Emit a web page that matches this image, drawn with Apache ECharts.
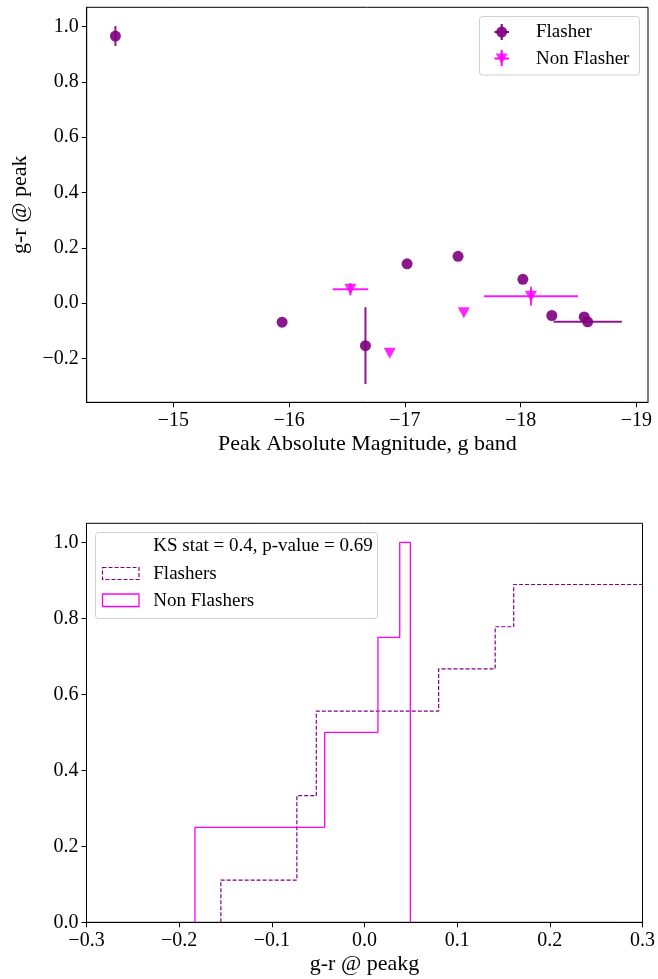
<!DOCTYPE html>
<html>
<head>
<meta charset="utf-8">
<script src="https://cdn.jsdelivr.net/npm/echarts@6/dist/echarts.min.js"></script>
<style>
  html, body { margin: 0; padding: 0; background: #fff; }
  #chart { width: 658px; height: 979px; }
</style>
</head>
<body>
<div id="chart"></div>
<script>
// ---- Colour at peak vs. peak absolute magnitude ----
const flasherMag      = [-14.50, -15.94, -16.66, -17.02, -17.46, -18.02, -18.27, -18.55, -18.58];
const flasherColor    = [0.966, -0.069, -0.154, 0.142, 0.169, 0.086, -0.045, -0.050, -0.068];
const flasherMagErr   = [0, 0, 0, 0, 0, 0, 0, 0, 0.295];
const flasherColorErr = [0.036, 0, 0.139, 0, 0, 0, 0, 0, 0];

const nonMag      = [-16.53, -16.87, -17.51, -18.09];
const nonColor    = [0.050, -0.182, -0.035, 0.025];
const nonMagErr   = [0.153, 0, 0, 0.406];
const nonColorErr = [0.022, 0, 0, 0.034];

const magTicks   = [-19, -18, -17, -16, -15];
const colorTicks = [-0.2, 0, 0.2, 0.4, 0.6, 0.8, 1.0];

// ---- Cumulative distributions of g-r at peak ----
const flasherStepX  = [-0.155, -0.073, -0.052, 0.080, 0.141, 0.161, 0.966];
const flasherLevels = [1/9, 3/9, 5/9, 6/9, 7/9, 8/9];
const nonStepX      = [-0.183, -0.043, 0.0145, 0.038, 0.0495];
const nonLevels     = [0.25, 0.50, 0.75, 1.00];

const grTicks  = [-0.3, -0.2, -0.1, 0, 0.1, 0.2, 0.3];
const cdfTicks = [0, 0.2, 0.4, 0.6, 0.8, 1.0];

const PURPLE = '#800080';
const MAGENTA = '#ff00ff';
const FONT = 'Liberation Serif';

function minusFmt(v, digits) {
  const s = Math.abs(v) < 1e-9 ? (0).toFixed(digits) : Math.abs(v).toFixed(digits);
  return (v < -1e-9 ? '\u2212' : '') + s;
}

// histogram-style outline: rises at each edge, drops to zero at the last edge
function stepOutline(edges, levels) {
  const pts = [[edges[0], 0]];
  for (let i = 0; i < levels.length; i++) {
    pts.push([edges[i], levels[i]]);
    pts.push([edges[i + 1], levels[i]]);
  }
  pts.push([edges[edges.length - 1], 0]);
  return pts;
}

function zip(a, b, c, d) {
  return a.map((v, i) => c ? [v, b[i], c[i], d[i]] : [v, b[i]]);
}

function errorBars(color) {
  return function (params, api) {
    const x = api.value(0), y = api.value(1), xe = api.value(2), ye = api.value(3);
    const children = [];
    const st = { stroke: color, lineWidth: 2, opacity: 0.9 };
    if (xe > 0) {
      const a = api.coord([x - xe, y]), b = api.coord([x + xe, y]);
      children.push({ type: 'line', shape: { x1: a[0], y1: a[1], x2: b[0], y2: b[1] }, style: st });
    }
    if (ye > 0) {
      const a = api.coord([x, y - ye]), b = api.coord([x, y + ye]);
      children.push({ type: 'line', shape: { x1: a[0], y1: a[1], x2: b[0], y2: b[1] }, style: st });
    }
    return { type: 'group', children: children };
  };
}

const axisCommon = {
  axisLine: { show: true, onZero: false, lineStyle: { color: '#000', width: 1 } },
  axisTick: { show: true, length: 5, lineStyle: { color: '#000', width: 1 } },
  splitLine: { show: false },
  nameTextStyle: { color: '#000', fontFamily: FONT, fontSize: 22 }
};
const labelCommon = { color: '#000', fontFamily: FONT, fontSize: 20, margin: 8 };

const chart = echarts.init(document.getElementById('chart'), null, { renderer: 'canvas' });

const legendText = { fill: '#000', font: '19px "Liberation Serif"', verticalAlign: 'middle', align: 'left' };
const Z = 60;

chart.setOption({
  backgroundColor: '#fff',
  animation: false,
  grid: [
    { left: 86.7, top: 7.3, width: 561.3, height: 395, show: true, borderColor: '#000', borderWidth: 1, backgroundColor: 'transparent' },
    { left: 86.5, top: 523.3, width: 561.5, height: 399, show: true, borderColor: '#000', borderWidth: 1, backgroundColor: 'transparent' }
  ],
  xAxis: [
    Object.assign({}, axisCommon, {
      gridIndex: 0, type: 'value', inverse: true, min: -19.101, max: -14.252,
      name: 'Peak Absolute Magnitude, g band', nameLocation: 'middle', nameGap: 31,
      axisTick: Object.assign({}, axisCommon.axisTick, { customValues: magTicks }),
      axisLabel: Object.assign({}, labelCommon, { customValues: magTicks, formatter: v => minusFmt(v, 0) })
    }),
    Object.assign({}, axisCommon, {
      gridIndex: 1, type: 'value', min: -0.3, max: 0.3,
      name: 'g-r @ peakg', nameLocation: 'middle', nameGap: 31,
      axisTick: Object.assign({}, axisCommon.axisTick, { customValues: grTicks }),
      axisLabel: Object.assign({}, labelCommon, { customValues: grTicks, formatter: v => minusFmt(v, 1) })
    })
  ],
  yAxis: [
    Object.assign({}, axisCommon, {
      gridIndex: 0, type: 'value', min: -0.359, max: 1.07,
      name: 'g-r @ peak', nameLocation: 'middle', nameGap: 52,
      axisTick: Object.assign({}, axisCommon.axisTick, { customValues: colorTicks }),
      axisLabel: Object.assign({}, labelCommon, { customValues: colorTicks, formatter: v => minusFmt(v, 1) })
    }),
    Object.assign({}, axisCommon, {
      gridIndex: 1, type: 'value', min: 0, max: 1.05,
      axisTick: Object.assign({}, axisCommon.axisTick, { customValues: cdfTicks }),
      axisLabel: Object.assign({}, labelCommon, { customValues: cdfTicks, formatter: v => minusFmt(v, 1) })
    })
  ],
  series: [
    {
      name: 'Flasher errors', type: 'custom', xAxisIndex: 0, yAxisIndex: 0,
      renderItem: errorBars(PURPLE), encode: { x: 0, y: 1 },
      data: zip(flasherMag, flasherColor, flasherMagErr, flasherColorErr), z: 2
    },
    {
      name: 'Flasher', type: 'scatter', xAxisIndex: 0, yAxisIndex: 0,
      symbol: 'circle', symbolSize: 11,
      itemStyle: { color: PURPLE, opacity: 0.9 },
      data: zip(flasherMag, flasherColor), z: 3
    },
    {
      name: 'Non Flasher errors', type: 'custom', xAxisIndex: 0, yAxisIndex: 0,
      renderItem: errorBars(MAGENTA), encode: { x: 0, y: 1 },
      data: zip(nonMag, nonColor, nonMagErr, nonColorErr), z: 2
    },
    {
      name: 'Non Flasher', type: 'scatter', xAxisIndex: 0, yAxisIndex: 0,
      symbol: 'triangle', symbolRotate: 180, symbolSize: [12, 11],
      itemStyle: { color: MAGENTA, opacity: 0.85 },
      data: zip(nonMag, nonColor), z: 3
    },
    {
      name: 'Flashers', type: 'line', xAxisIndex: 1, yAxisIndex: 1,
      showSymbol: false, symbol: 'none', clip: true,
      lineStyle: { color: PURPLE, width: 1.2, type: [4, 2] },
      data: stepOutline(flasherStepX, flasherLevels), z: 2
    },
    {
      name: 'Non Flashers', type: 'line', xAxisIndex: 1, yAxisIndex: 1,
      showSymbol: false, symbol: 'none', clip: true,
      lineStyle: { color: MAGENTA, width: 1.3 },
      data: stepOutline(nonStepX, nonLevels), z: 3
    }
  ],
  graphic: [
    // legend of the upper panel
    { type: 'rect', z: Z, shape: { x: 479.5, y: 16.5, width: 160, height: 58.5, r: 3 },
      style: { fill: 'rgba(255,255,255,0.85)', stroke: '#d0d0d0', lineWidth: 1 } },
    { type: 'line', z: Z + 1, shape: { x1: 494.5, y1: 32, x2: 509, y2: 32 }, style: { stroke: PURPLE, lineWidth: 2 } },
    { type: 'line', z: Z + 1, shape: { x1: 501.7, y1: 24, x2: 501.7, y2: 40 }, style: { stroke: PURPLE, lineWidth: 2 } },
    { type: 'circle', z: Z + 2, shape: { cx: 501.7, cy: 32, r: 5.5 }, style: { fill: PURPLE, opacity: 0.9 } },
    { type: 'text', z: Z + 1, style: Object.assign({ x: 536, y: 32.5, text: 'Flasher' }, legendText) },
    { type: 'line', z: Z + 1, shape: { x1: 494.5, y1: 58.5, x2: 509, y2: 58.5 }, style: { stroke: MAGENTA, lineWidth: 2 } },
    { type: 'line', z: Z + 1, shape: { x1: 501.7, y1: 50, x2: 501.7, y2: 66 }, style: { stroke: MAGENTA, lineWidth: 2 } },
    { type: 'polygon', z: Z + 2, shape: { points: [[495.7, 53.5], [507.7, 53.5], [501.7, 64]] }, style: { fill: MAGENTA, opacity: 0.85 } },
    { type: 'text', z: Z + 1, style: Object.assign({ x: 536, y: 59, text: 'Non Flasher' }, legendText) },
    // legend of the lower panel
    { type: 'rect', z: Z, shape: { x: 95.5, y: 532.5, width: 282, height: 86, r: 3 },
      style: { fill: 'rgba(255,255,255,0.85)', stroke: '#d0d0d0', lineWidth: 1 } },
    { type: 'text', z: Z + 1, style: Object.assign({ x: 153.3, y: 546.5, text: 'KS stat = 0.4, p-value = 0.69' }, legendText) },
    { type: 'rect', z: Z + 1, shape: { x: 102.5, y: 567.5, width: 36.5, height: 12 },
      style: { fill: 'none', stroke: PURPLE, lineWidth: 1.2, lineDash: [4, 2] } },
    { type: 'text', z: Z + 1, style: Object.assign({ x: 153.3, y: 574, text: 'Flashers' }, legendText) },
    { type: 'rect', z: Z + 1, shape: { x: 102.5, y: 594, width: 36.5, height: 12.5 },
      style: { fill: 'none', stroke: MAGENTA, lineWidth: 1.3 } },
    { type: 'text', z: Z + 1, style: Object.assign({ x: 153.3, y: 600.7, text: 'Non Flashers' }, legendText) }
  ]
});
</script>
</body>
</html>
